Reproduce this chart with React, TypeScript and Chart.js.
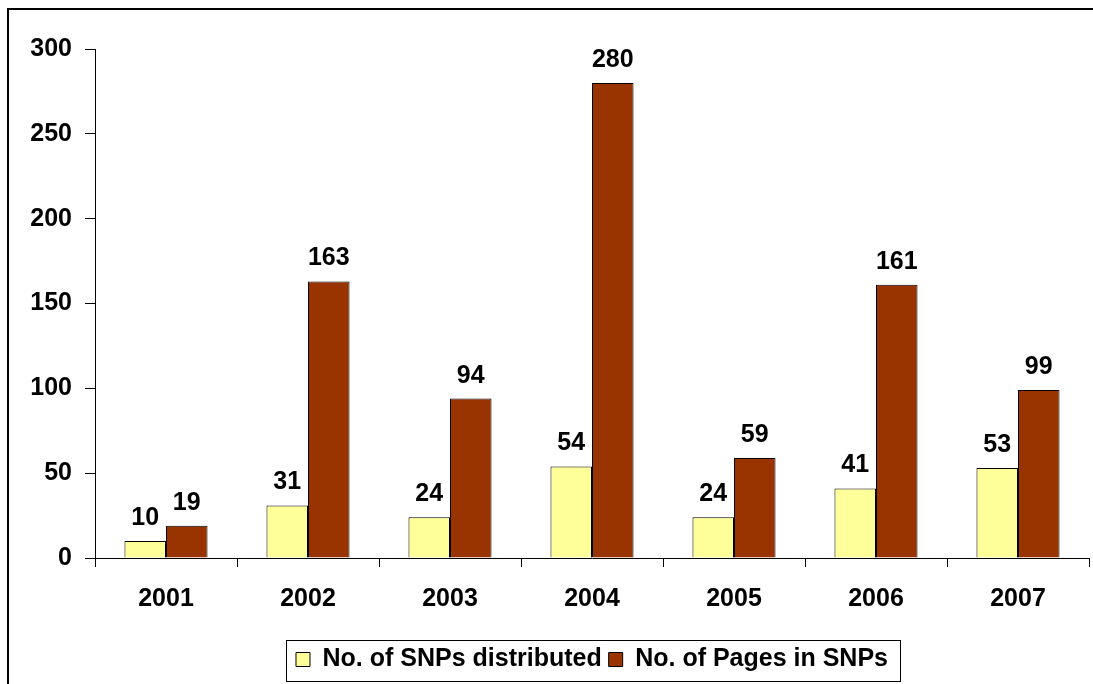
import React, { useEffect, useRef } from "react";
import { Chart, registerables } from "chart.js";

Chart.register(...registerables);

const years = ["2001", "2002", "2003", "2004", "2005", "2006", "2007"];
const snpsDistributed = [10, 31, 24, 54, 24, 41, 53];
const pagesInSnps = [19, 163, 94, 280, 59, 161, 99];
const yTickValues = [0, 50, 100, 150, 200, 250, 300];
const seriesNames = ["No. of SNPs distributed", "No. of Pages in SNPs"];

const FONT = "'Liberation Sans', Arial, sans-serif";
const FONT_SIZE = 25;

const valueLabels = {
  id: "valueLabels",
  afterDatasetsDraw(chart: any) {
    const ctx = chart.ctx;
    ctx.save();
    ctx.font = `bold ${FONT_SIZE}px ${FONT}`;
    ctx.fillStyle = "#000";
    ctx.textAlign = "center";
    ctx.textBaseline = "alphabetic";
    chart.data.datasets.forEach((ds: any, i: number) => {
      const meta = chart.getDatasetMeta(i);
      meta.data.forEach((el: any, j: number) => {
        ctx.fillText(String(ds.data[j]), el.x, el.y - 16);
      });
    });
    ctx.restore();
  },
};

const legendFrame = {
  id: "legendFrame",
  afterDraw(chart: any) {
    const lg = chart.legend;
    if (!lg || !lg.legendHitBoxes || !lg.legendHitBoxes.length) return;
    const boxes = lg.legendHitBoxes;
    const left = Math.min(...boxes.map((b: any) => b.left)) - 10;
    const right = Math.max(...boxes.map((b: any) => b.left + b.width)) + 12;
    const ctx = chart.ctx;
    ctx.save();
    ctx.strokeStyle = "#000";
    ctx.lineWidth = 1;
    ctx.strokeRect(Math.round(left) + 0.5, Math.round(lg.top) + 0.5, Math.round(right - left), Math.round(lg.height) - 1);
    ctx.restore();
  },
};

export default function App() {
  const canvasRef = useRef<HTMLCanvasElement | null>(null);

  useEffect(() => {
    document.body.style.margin = "0";
    const canvas = canvasRef.current;
    if (!canvas) return;
    const font = { family: FONT, size: FONT_SIZE, weight: "bold" as const };
    const chart = new Chart(canvas, {
      type: "bar",
      data: {
        labels: years,
        datasets: [
          {
            label: seriesNames[0],
            data: snpsDistributed,
            backgroundColor: "#FFFF99",
            borderColor: "#000",
            borderWidth: 1,
            categoryPercentage: 0.585,
            barPercentage: 1,
          },
          {
            label: seriesNames[1],
            data: pagesInSnps,
            backgroundColor: "#993300",
            borderColor: "#000",
            borderWidth: 1,
            categoryPercentage: 0.585,
            barPercentage: 1,
          },
        ],
      },
      options: {
        responsive: false,
        animation: false,
        devicePixelRatio: 1,
        layout: { padding: { left: 0, top: 49, right: 4, bottom: 2 } },
        plugins: {
          legend: {
            position: "bottom",
            fullSize: false,
            labels: {
              boxWidth: 14,
              boxHeight: 14,
              padding: 7,
              color: "#000",
              font,
            },
          },
          tooltip: { enabled: false },
        },
        scales: {
          x: {
            grid: {
              display: true,
              drawOnChartArea: false,
              drawTicks: true,
              tickLength: 9,
              color: "#000",
              offset: true,
            },
            border: { color: "#000", width: 1 },
            ticks: { color: "#000", font, padding: 17, maxRotation: 0 },
            afterFit: (s: any) => {
              s.height = 82;
            },
          },
          y: {
            min: 0,
            max: 300,
            grid: {
              display: true,
              drawOnChartArea: false,
              drawTicks: true,
              tickLength: 10,
              color: "#000",
            },
            border: { color: "#000", width: 1 },
            ticks: { color: "#000", font, padding: 13, stepSize: 50 },
            afterBuildTicks: (s: any) => {
              s.ticks = yTickValues.map((v) => ({ value: v }));
            },
            afterFit: (s: any) => {
              s.width = 95;
            },
          },
        },
      },
      plugins: [valueLabels, legendFrame],
    });
    return () => chart.destroy();
  }, []);

  return (
    <div style={{ position: "relative", width: 1093, height: 684, overflow: "hidden", background: "#fff" }}>
      <div
        style={{
          position: "absolute",
          left: 7,
          top: 8,
          width: 1200,
          height: 800,
          borderLeft: "2px solid #000",
          borderTop: "2px solid #000",
        }}
      />
      <canvas
        ref={canvasRef}
        width={1093}
        height={684}
        style={{ position: "absolute", left: 0, top: 0, width: 1093, height: 684 }}
      />
    </div>
  );
}
